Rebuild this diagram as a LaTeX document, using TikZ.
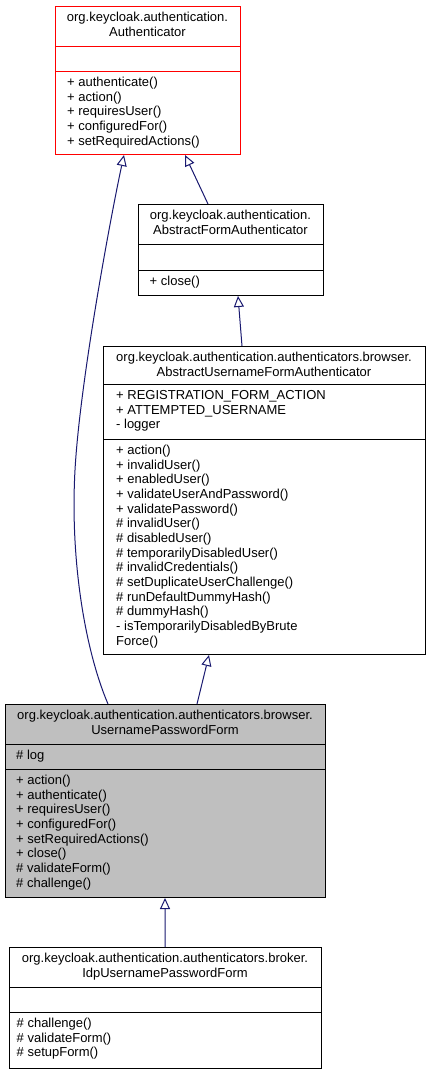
\documentclass[tikz,border=0pt]{standalone}
\usepackage{fontspec}
\setmainfont{Liberation Sans}
\usetikzlibrary{arrows.meta}

\definecolor{edgeblue}{HTML}{191970}
\definecolor{boxgray}{HTML}{BFBFBF}
\definecolor{boxred}{HTML}{FF0000}

\tikzset{
  classbox/.style={draw=black, line width=1bp, inner sep=0pt, anchor=north west},
  member/.style={anchor=base west, inner sep=0pt},
  title/.style={anchor=base, inner sep=0pt},
  inherit/.style={draw=edgeblue, line width=1bp, -{Triangle[open, length=11bp, width=10bp, fill=white]}},
}

\begin{document}
\begin{tikzpicture}[x=1bp, y=-1bp, font=\fontsize{13bp}{14.67bp}\selectfont]
    \fill[white] (0,0) rectangle (429,1073);
    \useasboundingbox (0,0) rectangle (429,1073);

    % Authenticator
    \node[classbox, draw=boxred, minimum width=185bp, minimum height=148bp] (authenticator) at (55,6) {};
    \draw[boxred, line width=1bp] (authenticator.west |- 0,46) -- (authenticator.east |- 0,46);
    \draw[boxred, line width=1bp] (authenticator.west |- 0,71) -- (authenticator.east |- 0,71);
    \node[title] (authT1) at (147.5, 21.5) {org.keycloak.authentication.};
    \node[title] (authT2) at (147.5, 36.2) {Authenticator};
    \foreach \txt [count=\i from 0] in {+ authenticate(), + action(), + requiresUser(), + configuredFor(), + setRequiredActions()}
        \node[member] (authM\i) at (67, 86.5+\i*14.67) {\txt};

    % AbstractFormAuthenticator
    \node[classbox, minimum width=185bp, minimum height=91bp] (abstractForm) at (138,204) {};
    \draw[line width=1bp] (abstractForm.west |- 0,244) -- (abstractForm.east |- 0,244);
    \draw[line width=1bp] (abstractForm.west |- 0,270) -- (abstractForm.east |- 0,270);
    \node[title] (formT1) at (230.5, 219.5) {org.keycloak.authentication.};
    \node[title] (formT2) at (230.5, 234.2) {AbstractFormAuthenticator};
    \node[member] (formM0) at (149.5, 285.5) {+ close()};

    % AbstractUsernameFormAuthenticator
    \node[classbox, minimum width=322bp, minimum height=308bp] (abstractUser) at (103,346) {};
    \draw[line width=1bp] (abstractUser.west |- 0,384) -- (abstractUser.east |- 0,384);
    \draw[line width=1bp] (abstractUser.west |- 0,439) -- (abstractUser.east |- 0,439);
    \node[title] (userT1) at (264, 361.5) {org.keycloak.authentication.authenticators.browser.};
    \node[title] (userT2) at (264, 376.2) {AbstractUsernameFormAuthenticator};
    \foreach \txt [count=\i from 0] in {+ REGISTRATION\_FORM\_ACTION, + ATTEMPTED\_USERNAME, - logger}
        \node[member] (userA\i) at (116, 399.5+\i*14.67) {\txt};
    \foreach \txt [count=\i from 0] in {+ action(), + invalidUser(), + enabledUser(), + validateUserAndPassword(),
        + validatePassword(), \# invalidUser(), \# disabledUser(), \# temporarilyDisabledUser(),
        \# invalidCredentials(), \# setDuplicateUserChallenge(), \# runDefaultDummyHash(),
        \# dummyHash(), - isTemporarilyDisabledByBrute, Force()}
        \node[member] (userM\i) at (116, 454.5+\i*14.67) {\txt};

    % UsernamePasswordForm
    \node[classbox, fill=boxgray, minimum width=320bp, minimum height=193bp] (usernamePwd) at (5,704) {};
    \draw[line width=1bp] (usernamePwd.west |- 0,744) -- (usernamePwd.east |- 0,744);
    \draw[line width=1bp] (usernamePwd.west |- 0,769) -- (usernamePwd.east |- 0,769);
    \node[title] (pwdT1) at (165, 719.5) {org.keycloak.authentication.authenticators.browser.};
    \node[title] (pwdT2) at (165, 734.2) {UsernamePasswordForm};
    \node[member] (pwdA0) at (16, 759.5) {\# log};
    \foreach \txt [count=\i from 0] in {+ action(), + authenticate(), + requiresUser(), + configuredFor(),
        + setRequiredActions(), + close(), \# validateForm(), \# challenge()}
        \node[member] (pwdM\i) at (16, 784.5+\i*14.67) {\txt};

    % IdpUsernamePasswordForm
    \node[classbox, minimum width=312bp, minimum height=121bp] (idpForm) at (9,947) {};
    \draw[line width=1bp] (idpForm.west |- 0,987) -- (idpForm.east |- 0,987);
    \draw[line width=1bp] (idpForm.west |- 0,1012) -- (idpForm.east |- 0,1012);
    \node[title] (idpT1) at (165, 962.5) {org.keycloak.authentication.authenticators.broker.};
    \node[title] (idpT2) at (165, 977.2) {IdpUsernamePasswordForm};
    \foreach \txt [count=\i from 0] in {\# challenge(), \# validateForm(), \# setupForm()}
        \node[member] (idpM\i) at (16.5, 1027.5+\i*14.67) {\txt};

    % Inheritance
    \draw[inherit] ([xshift=70bp]abstractForm.north west) -- ([xshift=130bp]authenticator.south west);
    \coordinate (bend) at (75,470);
    \draw[inherit] ([xshift=103bp]usernamePwd.north west) .. controls +(-23,-54) and +(-5,90) .. (bend)
        .. controls +(5,-90) and +(-12,55) .. ([xshift=69bp]authenticator.south west);
    \draw[inherit] ([xshift=139bp]abstractUser.north west) -- ([xshift=100bp]abstractForm.south west);
    \draw[inherit] ([xshift=192bp]usernamePwd.north west) -- ([xshift=106bp]abstractUser.south west);
    \draw[inherit] ([xshift=156bp]idpForm.north west) -- ([xshift=160bp]usernamePwd.south west);
\end{tikzpicture}
\end{document}
